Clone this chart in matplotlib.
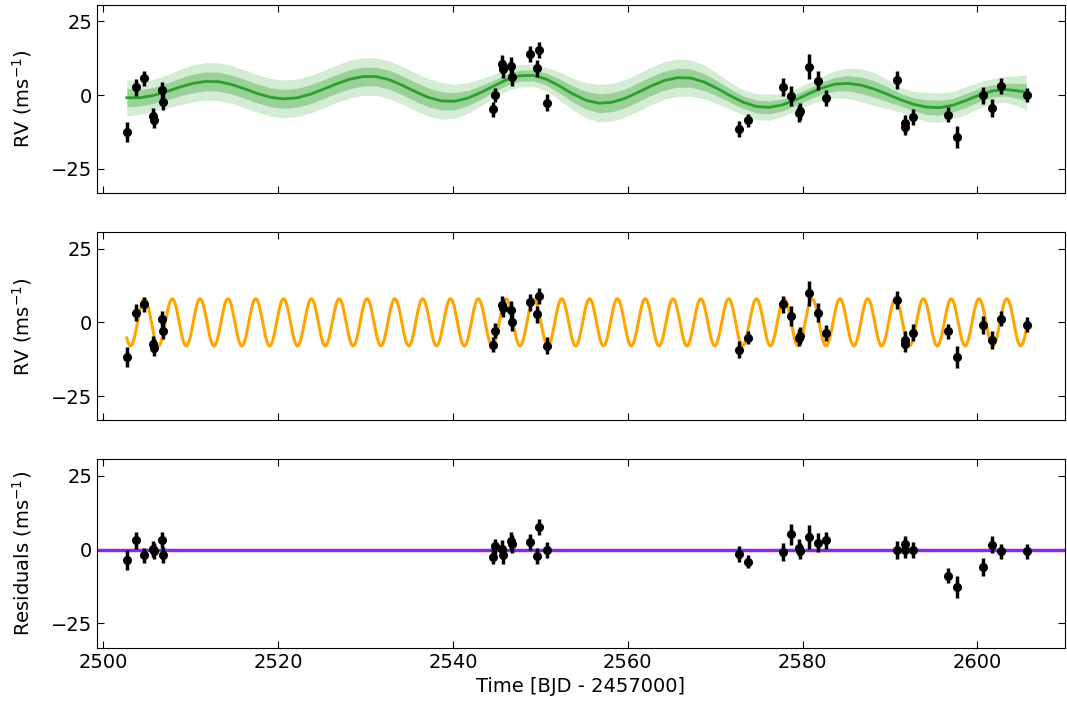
import numpy as np
import matplotlib
matplotlib.use("Agg")
import matplotlib.pyplot as plt

# Dados RV (tempo em BJD - 2457000)
tempo = [2502.74, 2503.77, 2504.70, 2505.68, 2505.83, 2506.70, 2506.86,
         2544.60, 2544.77, 2545.64, 2545.76, 2546.66, 2546.78, 2548.77,
         2549.67, 2549.87, 2550.74,
         2572.72, 2573.75, 2577.71, 2578.70, 2579.62, 2579.74, 2580.69,
         2581.71, 2582.66,
         2590.78, 2591.66, 2591.77, 2592.60, 2596.65, 2597.63, 2600.61,
         2601.63, 2602.66, 2605.63]
rv_gp = [-12.5, 2.6, 5.7, -7.1, -8.5, 1.6, -2.2,
         -4.8, 0.0, 10.5, 8.8, 10.0, 6.0, 13.9,
         9.1, 15.3, -2.6,
         -11.5, -8.5, 2.7, -0.3, -6.2, -5.5, 9.6,
         4.9, -1.0,
         5.2, -10.8, -9.6, -7.5, -6.6, -14.3, -0.1,
         -4.5, 3.1, 0.0]
rv_planeta = [-11.8, 3.3, 6.1, -7.3, -8.6, 1.0, -2.8,
              -7.6, -2.8, 5.9, 4.8, 4.3, 0.2, 6.8,
              2.7, 9.0, -7.9,
              -9.3, -5.2, 6.1, 2.2, -5.2, -4.5, 9.8,
              3.3, -3.7,
              7.6, -7.3, -5.9, -3.5, -3.1, -11.8, -0.9,
              -6.1, 1.3, -0.8]
residuos = [-3.6, 3.1, -1.9, 0.2, -0.5, 3.2, -1.9,
            -2.4, 1.1, 0.3, -1.9, 2.9, 2.0, 2.6,
            -2.2, 7.7, -0.2,
            -1.5, -4.1, -0.9, 5.2, 0.7, -0.5, 4.3,
            2.3, 3.1,
            -0.2, -0.2, 1.8, -0.2, -8.9, -12.7, -5.9,
            1.7, -0.6, -0.6]
erro = [3.3, 2.8, 2.5, 2.8, 2.8, 2.8, 2.8,
        2.5, 2.5, 3.0, 3.0, 3.0, 3.0, 2.8,
        2.8, 2.8, 2.8,
        2.8, 2.2, 3.0, 3.5, 2.8, 2.8, 4.2,
        3.2, 2.8,
        3.0, 2.8, 2.8, 2.8, 2.6, 3.8, 3.0,
        3.0, 2.6, 2.5]

# Modelo GP (media e desvio)
gp_t = [2502.7, 2504.2, 2505.7, 2507.2, 2508.7, 2510.2, 2511.7, 2513.2,
        2514.7, 2516.2, 2517.7, 2519.2, 2520.7, 2522.2, 2523.7, 2525.2,
        2526.7, 2528.2, 2529.7, 2531.2, 2532.7, 2534.2, 2535.7, 2537.2,
        2538.7, 2540.2, 2541.7, 2543.2, 2544.7, 2546.2, 2547.7, 2549.2,
        2550.7, 2552.2, 2553.7, 2555.2, 2556.7, 2558.2, 2559.7, 2561.2,
        2562.7, 2564.2, 2565.7, 2567.2, 2568.7, 2570.2, 2571.7, 2573.2,
        2574.7, 2576.2, 2577.7, 2579.2, 2580.7, 2582.2, 2583.7, 2585.2,
        2586.7, 2588.2, 2589.7, 2591.2, 2592.7, 2594.2, 2595.7, 2597.2,
        2598.7, 2600.2, 2601.7, 2603.2, 2604.7, 2605.6]
gp_media = [-0.9, -0.91, -0.17, 1.14, 2.65, 3.93, 4.64, 4.54,
            3.6, 2.09, 0.46, -0.79, -1.3, -0.91, 0.29, 2.0,
            3.83, 5.4, 6.27, 6.27, 5.22, 3.34, 1.15, -0.8,
            -1.99, -2.1, -1.05, 0.9, 3.1, 5.3, 6.58, 6.68,
            5.4, 3.07, 0.42, -1.75, -2.77, -2.45, -1.09, 0.94,
            3.14, 4.93, 5.91, 5.78, 4.48, 2.31, -0.19, -2.43,
            -3.87, -4.16, -3.33, -1.63, 0.47, 2.41, 3.7, 3.99,
            3.35, 2.03, 0.28, -1.56, -3.14, -4.08, -4.26, -3.43,
            -1.82, -0.01, 1.4, 1.9, 1.4, 1.0]
gp_sigma = [3.1, 2.8, 2.7, 2.8, 3.0, 3.15, 3.2, 3.2,
            3.2, 3.2, 3.2, 3.2, 3.2, 3.2, 3.2, 3.2,
            3.2, 3.2, 3.2, 3.2, 3.2, 3.2, 3.2, 3.2,
            3.1, 2.9, 2.6, 2.3, 2.0, 1.9, 1.9, 1.9,
            2.0, 2.4, 2.7, 3.0, 3.2, 3.2, 3.2, 3.2,
            3.2, 3.2, 3.2, 3.1, 2.9, 2.6, 2.3, 2.1,
            2.2, 2.2, 2.0, 1.9, 1.9, 2.0, 2.3, 2.6,
            2.8, 2.8, 2.5, 2.1, 2.2, 2.5, 2.5, 2.3,
            2.4, 2.2, 2.1, 2.2, 2.6, 3.0]

# Parametros do planeta
K = 8.0
periodo = 3.182
t_pico = 2504.72

gp_t = np.array(gp_t)
gp_media = np.array(gp_media)
gp_sigma = np.array(gp_sigma)
t_mod = np.linspace(gp_t[0], gp_t[-1], 3000)
rv_mod = K * np.cos(2 * np.pi * (t_mod - t_pico) / periodo)

plt.rcParams['font.family'] = 'DejaVu Sans'
plt.rcParams['font.size'] = 14

fig, axs = plt.subplots(3, 1, figsize=(10.67, 7.01), dpi=100, sharex=True)
fig.subplots_adjust(left=0.091, right=0.998, top=0.993, bottom=0.076, hspace=0.207)

pontos = dict(fmt='o', color='black', ms=5.5, elinewidth=2.5, capsize=0, zorder=5)

# painel 1 - GP
ax = axs[0]
ax.fill_between(gp_t, gp_media - 2 * gp_sigma, gp_media + 2 * gp_sigma,
                color='tab:green', alpha=0.2, lw=0)
ax.fill_between(gp_t, gp_media - gp_sigma, gp_media + gp_sigma,
                color='tab:green', alpha=0.35, lw=0)
ax.plot(gp_t, gp_media, color='tab:green', lw=2)
ax.errorbar(tempo, rv_gp, yerr=erro, **pontos)
ax.set_ylabel('RV (ms$^{-1}$)', labelpad=12)

# painel 2 - planeta
ax = axs[1]
ax.plot(t_mod, rv_mod, color='orange', lw=2.2)
ax.errorbar(tempo, rv_planeta, yerr=erro, **pontos)
ax.set_ylabel('RV (ms$^{-1}$)', labelpad=12)

# painel 3 - residuos
ax = axs[2]
ax.axhline(0, color='blueviolet', lw=2.5)
ax.errorbar(tempo, residuos, yerr=erro, **pontos)
ax.set_ylabel('Residuals (ms$^{-1}$)', labelpad=12)
ax.set_xlabel('Time [BJD - 2457000]')

for ax in axs:
    ax.set_ylim(-33.3, 30.6)
    ax.set_yticks([-25, 0, 25])
    ax.set_xlim(2499.3, 2610)
    ax.set_xticks([2500, 2520, 2540, 2560, 2580, 2600])
    ax.tick_params(direction='in', top=True, right=True, length=5, labelsize=14)

fig.align_ylabels(axs)
plt.savefig('out.png', dpi=100)
